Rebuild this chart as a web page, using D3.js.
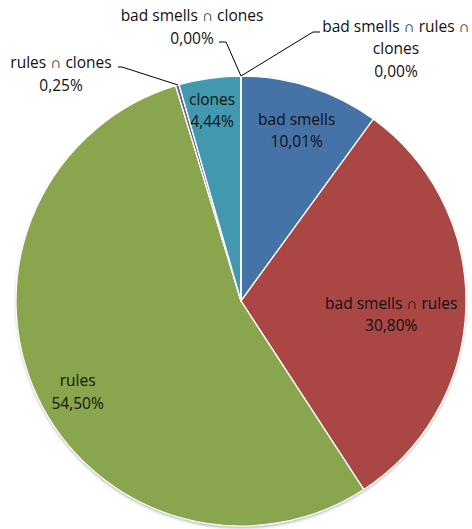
<!DOCTYPE html>
<html><head><meta charset="utf-8">
<script src="https://cdn.jsdelivr.net/npm/d3@7"></script>
<style>
body{margin:0;background:#fff;}
text{font-family:"Open Sans",sans-serif;font-size:15.5px;fill:#111;}
</style></head>
<body><svg id="c" width="472" height="529"></svg>
<script>
const categories = ["bad smells","bad smells \u2229 rules","rules","rules \u2229 clones","clones","bad smells \u2229 clones","bad smells \u2229 rules \u2229 clones"];
const values = [10.01, 30.80, 54.50, 0.25, 4.44, 0.00, 0.00];
const colors = ["#4572A7","#AA4643","#89A54E","#71588F","#4198AF","#B9CDE5","#F79646"];

// label layout (not data): inside = radius factor; outside = anchor point & lines
const layout = [
  {type:"in", rf:0.80, da:0},
  {type:"in", rf:0.67, da:3.4},
  {type:"in", rf:0.83, da:-4},
  {type:"out", lines:["rules \u2229 clones"], x:61, y:63, lead:[[178,85],[122,67],[118,67]]},
  {type:"in", rf:0.86, da:-0.6},
  {type:"out", lines:["bad smells \u2229 clones"], x:192, y:16, lead:[[241,76],[226,42],[219,42]]},
  {type:"out", lines:["bad smells \u2229 rules \u2229","clones"], x:396, y:27, lead:[[241,76],[313,32],[320,32]]}
];

const W=472,H=529, cx=241, cy=301, R=225;
const svg=d3.select("#c");
const defs=svg.append("defs");
const f=defs.append("filter").attr("id","sh").attr("x","-10%").attr("y","-10%").attr("width","120%").attr("height","125%");
f.append("feDropShadow").attr("dx",0).attr("dy",2).attr("stdDeviation",1.8).attr("flood-color","#000").attr("flood-opacity",0.3);

const fmt = v => d3.format(".2f")(v).replace(".",",")+"%";
const pie=d3.pie().sort(null).value(d=>d).startAngle(0).endAngle(2*Math.PI);
const arcs=pie(values);
const arc=d3.arc().innerRadius(0).outerRadius(R);
const g=svg.append("g").attr("transform",`translate(${cx},${cy})`);
g.append("circle").attr("r",R).attr("fill","#fff").attr("filter","url(#sh)");
g.selectAll("path").data(arcs).join("path")
  .attr("d",arc).attr("fill",(d,i)=>colors[i])
  .attr("stroke","#fff").attr("stroke-width",1.3).attr("stroke-linejoin","round");

arcs.forEach((d,i)=>{
  const L=layout[i];
  if(L.type==="in"){
    const a=(d.startAngle+d.endAngle)/2 + L.da*Math.PI/180;
    const r=R*L.rf;
    const x=cx+r*Math.sin(a), y=cy-r*Math.cos(a);
    const t=svg.append("text").attr("text-anchor","middle").attr("x",x).attr("y",y-5);
    t.append("tspan").attr("x",x).attr("dy",0).text(categories[i]);
    t.append("tspan").attr("x",x).attr("dy",22.5).text(fmt(values[i]));
  } else {
    svg.append("path").attr("d",d3.line()(L.lead)).attr("fill","none").attr("stroke","#000").attr("stroke-width",1);
    const t=svg.append("text").attr("text-anchor","middle").attr("x",L.x).attr("y",L.y+5);
    L.lines.forEach((s,k)=>t.append("tspan").attr("x",L.x).attr("dy",k?22:0).text(s));
    t.append("tspan").attr("x",L.x).attr("dy",22.5).text(fmt(values[i]));
  }
});
</script></body></html>
